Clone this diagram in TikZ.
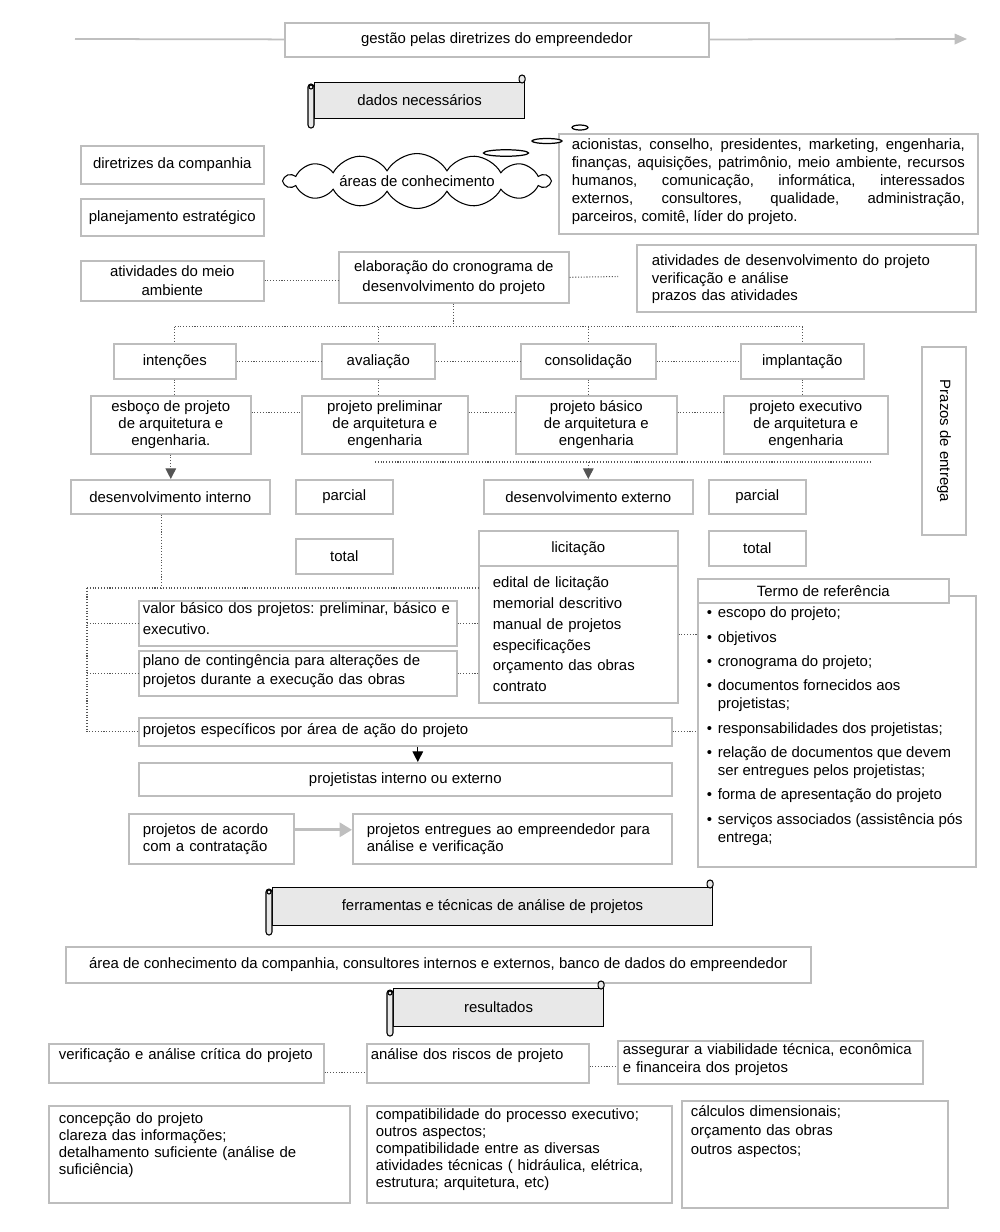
\documentclass[tikz,border=0pt]{standalone}
\usepackage{fontspec}
\setmainfont{Liberation Sans}
\usepackage{tikz}
\usetikzlibrary{shapes,shapes.symbols,arrows.meta,positioning,calc}
\definecolor{boxline}{HTML}{BDBDBD}
\definecolor{scrollfill}{HTML}{E8E8E8}
\definecolor{dotline}{HTML}{555555}
\definecolor{flowgray}{HTML}{BFBFBF}
\frenchspacing
\hyphenpenalty=10000
\exhyphenpenalty=10000

\newcommand{\scrollrolls}[1]{%
  \draw[scrolledge, rounded corners=0.06cm] ([xshift=-0.12cm,yshift=-0.04cm]#1.north west) rectangle ([yshift=-0.18cm]#1.south west);
  \draw[scrolledge] ([xshift=-0.06cm,yshift=-0.1cm]#1.north west) circle (0.04cm);
  \draw[scrolledge, rounded corners=0.06cm] ([xshift=-0.12cm,yshift=0.14cm]#1.north east) rectangle ([yshift=-0.02cm]#1.north east);
}

\begin{document}
\begin{tikzpicture}[
  font=\fontsize{8.5}{9.9}\selectfont,
  box/.style={draw=boxline, line width=0.9pt, fill=white, anchor=north west, inner sep=0pt, align=center},
  topbox/.style={draw=boxline, line width=0.9pt, fill=white, anchor=north west, align=left, text height=0.23cm},
  scrollbody/.style={draw=black, line width=0.6pt, fill=scrollfill, anchor=north west, inner sep=0pt},
  scrolledge/.style={draw=black, line width=0.6pt, fill=scrollfill},
  thought/.style={ellipse, draw=black, line width=0.7pt, fill=white, inner sep=0pt},
  dotlink/.style={densely dotted, draw=dotline, line width=0.6pt},
  headblack/.style={-{Triangle[length=6pt,width=6pt]}}
]
  \useasboundingbox (0,0) rectangle (20,-24.64);

  \node[box, minimum width=8.48cm, minimum height=0.68cm] (gestao) at (5.68,-0.44) {gestão pelas diretrizes do empreendedor};
  \coordinate (g_start) at (1.5,-0.78);
  \coordinate (g_end) at (19.34,-0.78);
  \draw[flowgray, line width=1pt] (g_start) -- (gestao);
  \draw[flowgray, line width=1pt, -{Triangle[length=7pt,width=6pt]}] (gestao) -- (g_end);

  \node[scrollbody, minimum width=4.2cm, minimum height=0.72cm] (dados) at (6.28,-1.64) {dados necessários};
  \scrollrolls{dados}

  \node[box, minimum width=3.66cm, minimum height=0.76cm] (diretrizes) at (1.6,-2.9) {diretrizes da companhia};
  \node[box, minimum width=3.66cm, minimum height=0.74cm] (plan_estr) at (1.6,-3.96) {planejamento estratégico};

  \node[cloud, draw=black, line width=0.6pt, fill=white, cloud puffs=14, cloud puff arc=120, aspect=8, inner sep=0pt, minimum width=5.3cm, minimum height=0.74cm] (areas) at (8.34,-3.62) {áreas de conhecimento};

  \node[topbox, text width=7.86cm, inner xsep=0.26cm, inner ysep=0.09cm, text depth=1.59cm, font=\fontsize{8.5}{10.2}\selectfont, align=justify] (areas_lista) at (11.16,-2.66) {acionistas, conselho, presidentes, marketing, engenharia,\linebreak finanças, aquisições, patrimônio, meio ambiente, recursos\linebreak humanos, comunicação, informática, interessados\linebreak externos, consultores, qualidade, administração,\linebreak parceiros, comitê, líder do projeto.};
  \node[thought, minimum width=0.9cm, minimum height=0.13cm] (bolha1) at (10.12,-3.06) {};
  \node[thought, minimum width=0.6cm, minimum height=0.1cm] (bolha2) at (10.94,-2.82) {};
  \node[thought, minimum width=0.32cm, minimum height=0.1cm] (bolha3) at (11.6,-2.55) {};

  \node[box, minimum width=3.66cm, minimum height=0.8cm, font=\fontsize{8.5}{10.8}\selectfont] (atmeio) at (1.6,-5.2) {atividades do meio\\ambiente};
  \node[box, minimum width=4.6cm, minimum height=1.02cm, font=\fontsize{8.5}{11.3}\selectfont] (elab) at (6.76,-5.02) {elaboração do cronograma de\\desenvolvimento do projeto};
  \node[topbox, text width=6.18cm, inner xsep=0.3cm, inner ysep=0.19cm, text depth=0.73cm] (atdev) at (12.72,-4.88) {atividades de desenvolvimento do projeto\\verificação e análise\\prazos das atividades};
  \coordinate (elab_end) at (12.36,-5.53);
  \draw[dotlink] (atmeio.east) -- (atmeio.east -| elab.west);
  \draw[dotlink] (elab.east) -- (elab_end);

  \node[box, minimum width=2.44cm, minimum height=0.7cm] (intencoes) at (2.26,-6.86) {intenções};
  \node[box, minimum width=2.26cm, minimum height=0.7cm] (avaliacao) at (6.42,-6.86) {avaliação};
  \node[box, minimum width=2.7cm, minimum height=0.7cm] (consolid) at (10.4,-6.86) {consolidação};
  \node[box, minimum width=2.46cm, minimum height=0.7cm] (implant) at (14.8,-6.86) {implantação};
  \draw[dotlink] (elab.south) -- ++(0,-0.46) coordinate (fase_bus);
  \draw[dotlink] (intencoes.north |- fase_bus) -- (implant.north |- fase_bus);
  \draw[dotlink] (intencoes.north |- fase_bus) -- (intencoes.north);
  \draw[dotlink] (avaliacao.north |- fase_bus) -- (avaliacao.north);
  \draw[dotlink] (consolid.north |- fase_bus) -- (consolid.north);
  \draw[dotlink] (implant.north |- fase_bus) -- (implant.north);
  \draw[dotlink] (intencoes) -- (avaliacao);
  \draw[dotlink] (avaliacao) -- (consolid);
  \draw[dotlink] (consolid) -- (implant);

  \node[box, minimum width=3.2cm, minimum height=1.16cm, font=\fontsize{8.5}{9.6}\selectfont] (esboco) at (1.8,-7.9) {esboço de projeto\\de arquitetura e\\engenharia.};
  \node[box, minimum width=3.32cm, minimum height=1.16cm, font=\fontsize{8.5}{9.6}\selectfont] (prelim) at (6.02,-7.9) {projeto preliminar\\de arquitetura e\\engenharia};
  \node[box, minimum width=3.22cm, minimum height=1.16cm, font=\fontsize{8.5}{9.6}\selectfont] (basico) at (10.3,-7.9) {projeto básico\\de arquitetura e\\engenharia};
  \node[box, minimum width=3.28cm, minimum height=1.16cm, font=\fontsize{8.5}{9.6}\selectfont] (execut) at (14.46,-7.9) {projeto executivo\\de arquitetura e\\engenharia};
  \draw[dotlink] (intencoes.south) -- (intencoes.south |- esboco.north);
  \draw[dotlink] (avaliacao.south) -- (avaliacao.south |- prelim.north);
  \draw[dotlink] (consolid.south) -- (consolid.south |- basico.north);
  \draw[dotlink] (implant.south) -- (implant.south |- execut.north);
  \draw[dotlink] ([yshift=0.24cm]esboco.east) -- ([yshift=0.24cm]prelim.west);
  \draw[dotlink] ([yshift=0.24cm]prelim.east) -- ([yshift=0.24cm]basico.west);
  \draw[dotlink] ([yshift=0.24cm]basico.east) -- ([yshift=0.24cm]execut.west);

  \node[box, minimum width=3.98cm, minimum height=0.68cm] (devint) at (1.4,-9.58) {desenvolvimento interno};
  \node[box, minimum width=1.94cm, minimum height=0.68cm] (parcial_int) at (5.9,-9.58) {parcial};
  \node[box, minimum width=4.18cm, minimum height=0.68cm] (devext) at (9.66,-9.58) {desenvolvimento externo};
  \node[box, minimum width=1.94cm, minimum height=0.68cm] (parcial_ext) at (14.16,-9.58) {parcial};
  \draw[dotlink, headblack] (esboco.south) -- (esboco.south |- devint.north);
  \coordinate (ext_l) at (7.5,-9.24);
  \coordinate (ext_r) at (17.4,-9.24);
  \draw[dotlink] (ext_l) -- (ext_r);
  \draw[dotlink, headblack] (devext.north |- ext_l) -- (devext.north);

  \node[box, rotate=-90, anchor=center, minimum width=3.76cm, minimum height=0.88cm] (prazos) at (18.88,-8.82) {Prazos de entrega};

  \node[box, minimum width=1.94cm, minimum height=0.7cm] (total_int) at (5.9,-10.76) {total};
  \node[box, minimum width=1.94cm, minimum height=0.7cm] (total_ext) at (14.16,-10.6) {total};

  \node[box, minimum width=3.98cm, minimum height=0.7cm] (licit) at (9.56,-10.6) {licitação};
  \node[topbox, text width=3.42cm, inner xsep=0.28cm, inner ysep=0.21cm, text depth=2.09cm, font=\fontsize{8.5}{11.8}\selectfont] (lic_lista) at (9.56,-11.3) {edital de licitação\\memorial descritivo\\manual de projetos\\especificações\\orçamento das obras\\contrato};

  \node[topbox, text width=6.2cm, inner xsep=0.08cm, inner ysep=0.02cm, text depth=0.63cm, font=\fontsize{8.5}{11.9}\selectfont] (valor) at (2.76,-12.0) {valor básico dos projetos: preliminar, básico e\\executivo.};
  \node[topbox, text width=6.2cm, inner xsep=0.08cm, inner ysep=0.07cm, text depth=0.53cm, font=\fontsize{8.5}{10.8}\selectfont] (plano) at (2.76,-13.0) {plano de contingência para alterações de\\projetos durante a execução das obras};
  \node[topbox, text width=10.5cm, inner xsep=0.08cm, inner ysep=0.11cm, text depth=0.11cm] (especif) at (2.76,-14.34) {projetos específicos por área de ação do projeto};
  \node[box, minimum width=10.66cm, minimum height=0.66cm] (projetistas) at (2.76,-15.24) {projetistas interno ou externo};
  \draw[headblack, line width=0.6pt] ([xshift=0.25cm]especif.south) -- ([xshift=0.25cm]projetistas.north);

  \coordinate (lic_bus) at (1.74,-11.76);
  \draw[dotlink] ([xshift=-0.17cm]devint.south) -- ([xshift=-0.17cm]devint.south |- lic_bus);
  \draw[dotlink] (lic_bus) -- (lic_bus -| lic_lista.west);
  \draw[dotlink] (lic_bus) |- (especif.west);
  \draw[dotlink] (lic_bus |- valor.west) -- (valor.west);
  \draw[dotlink] (lic_bus |- plano.west) -- (plano.west);
  \draw[dotlink] (valor.east) -- (valor.east -| lic_lista.west);
  \draw[dotlink] (plano.east) -- (plano.east -| lic_lista.west);

  \node[draw=boxline, line width=0.9pt, fill=white, anchor=north west, inner xsep=0.18cm, inner ysep=0.1cm, text height=0.34cm, text depth=4.88cm, font=\fontsize{8.5}{10.2}\selectfont] (termo_lista) at (13.94,-11.9) {\renewcommand{\arraystretch}{1.36}%
    \begin{tabular}[t]{@{}p{0.22cm}@{}p{4.98cm}@{}}
      \textbullet & escopo do projeto;\\
      \textbullet & objetivos\\
      \textbullet & cronograma do projeto;\\
      \textbullet & documentos fornecidos aos\newline projetistas;\\
      \textbullet & responsabilidades dos projetistas;\\
      \textbullet & relação de documentos que devem\newline ser entregues pelos projetistas;\\
      \textbullet & forma de apresentação do projeto\\
      \textbullet & serviços associados (assistência pós\newline entrega;
    \end{tabular}};
  \node[box, minimum width=5.02cm, minimum height=0.48cm] (termo) at (13.94,-11.56) {Termo de referência};
  \draw[dotlink] (lic_lista.east) -- (lic_lista.east -| termo_lista.west);
  \draw[dotlink] (especif.east) -- (especif.east -| termo_lista.west);

  \node[box, align=left, text width=2.74cm, inner xsep=0.28cm, minimum height=1.0cm, font=\fontsize{8.5}{9.6}\selectfont] (acordo) at (2.56,-16.26) {projetos de acordo\\com a contratação};
  \node[box, align=left, text width=5.82cm, inner xsep=0.28cm, minimum height=1.0cm, font=\fontsize{8.5}{9.6}\selectfont] (entregues) at (7.04,-16.26) {projetos entregues ao empreendedor para\\análise e verificação};
  \draw[flowgray, line width=1.5pt, -{Triangle[length=7pt,width=8pt]}] ([yshift=0.18cm]acordo.east) -- ([yshift=0.18cm]entregues.west);

  \node[scrollbody, minimum width=8.8cm, minimum height=0.76cm] (ferram) at (5.44,-17.74) {ferramentas e técnicas de análise de projetos};
  \scrollrolls{ferram}

  \node[box, minimum width=14.9cm, minimum height=0.72cm] (areaconh) at (1.3,-18.92) {área de conhecimento da companhia, consultores internos e externos, banco de dados do empreendedor};

  \node[scrollbody, minimum width=4.2cm, minimum height=0.76cm] (result) at (7.86,-19.76) {resultados};
  \scrollrolls{result}

  \node[topbox, text width=5.1cm, inner xsep=0.2cm, inner ysep=0.09cm, text depth=0.37cm] (verif) at (0.96,-20.86) {verificação e análise crítica do projeto};
  \node[topbox, text width=4.28cm, inner xsep=0.08cm, inner ysep=0.09cm, text depth=0.37cm] (riscos) at (7.32,-20.86) {análise dos riscos de projeto};
  \node[topbox, text width=5.9cm, inner xsep=0.1cm, inner ysep=0.05cm, text depth=0.53cm] (assegurar) at (12.34,-20.8) {assegurar a viabilidade técnica, econômica\\e financeira dos projetos};
  \draw[dotlink] ([yshift=-0.19cm]verif.east) -- ([yshift=-0.19cm]riscos.west);
  \draw[dotlink] ([yshift=-0.07cm]riscos.east) -- ([yshift=-0.07cm]riscos.east -| assegurar.west);

  \node[topbox, text width=5.62cm, inner xsep=0.2cm, inner ysep=0.13cm, text depth=1.45cm, font=\fontsize{8.5}{9.6}\selectfont] (concepcao) at (0.96,-22.1) {concepção do projeto\\clareza das informações;\\detalhamento suficiente (análise de\\suficiência)};
  \node[topbox, text width=5.74cm, inner xsep=0.18cm, inner ysep=0.05cm, text depth=1.61cm, font=\fontsize{8.5}{9.6}\selectfont] (compat) at (7.32,-22.1) {compatibilidade do processo executivo;\\outros aspectos;\\compatibilidade entre as diversas\\atividades técnicas ( hidráulica, elétrica,\\estrutura; arquitetura, etc)};
  \node[topbox, text width=4.96cm, inner xsep=0.18cm, inner ysep=0.09cm, text depth=1.73cm, font=\fontsize{8.5}{10.8}\selectfont] (calculos) at (13.62,-22.0) {cálculos dimensionais;\\orçamento das obras\\outros aspectos;};
\end{tikzpicture}
\end{document}
